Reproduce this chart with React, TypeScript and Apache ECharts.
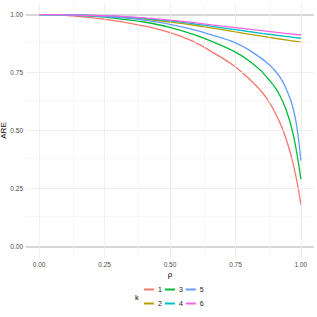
import React, { useEffect, useRef } from "react";
import * as echarts from "echarts";

const rhoOdd = [0, 0.1, 0.2, 0.3, 0.4, 0.5, 0.6, 0.7, 0.75, 0.8, 0.85, 0.88, 0.9, 0.92, 0.94, 0.96, 0.97, 0.98, 0.99, 1.0];
const k1 = [1, 0.997, 0.987, 0.972, 0.951, 0.922, 0.878, 0.812, 0.774, 0.725, 0.667, 0.62, 0.58, 0.533, 0.475, 0.402, 0.358, 0.308, 0.25, 0.18];
const k3 = [1, 0.999, 0.993, 0.983, 0.968, 0.945, 0.91, 0.865, 0.838, 0.802, 0.755, 0.716, 0.688, 0.65, 0.6, 0.53, 0.485, 0.43, 0.365, 0.29];
const k5 = [1, 0.999, 0.995, 0.988, 0.976, 0.958, 0.932, 0.898, 0.878, 0.849, 0.81, 0.783, 0.76, 0.73, 0.69, 0.634, 0.596, 0.546, 0.472, 0.37];
const rhoEven = [0, 0.1, 0.2, 0.3, 0.4, 0.5, 0.6, 0.7, 0.8, 0.9, 1.0];
const k2 = [1, 0.999, 0.996, 0.99, 0.981, 0.968, 0.953, 0.935, 0.916, 0.898, 0.881];
const k4 = [1, 0.999, 0.997, 0.992, 0.984, 0.973, 0.959, 0.943, 0.927, 0.912, 0.898];
const k6 = [1, 0.999, 0.997, 0.993, 0.986, 0.976, 0.964, 0.95, 0.937, 0.924, 0.912];

const kNames = ["1", "2", "3", "4", "5", "6"];
const kRho = [rhoOdd, rhoEven, rhoOdd, rhoEven, rhoOdd, rhoEven];
const kValues = [k1, k2, k3, k4, k5, k6];
const colors = ["#F8766D", "#B79F00", "#00BA38", "#00BFC4", "#619CFF", "#F564E3"];
const tickValues = [0, 0.25, 0.5, 0.75, 1];
const tickLabels = ["0.00", "0.25", "0.50", "0.75", "1.00"];
const minorValues = [0.125, 0.375, 0.625, 0.875];
const hlines = [0, 1];

export default function App() {
  const ref = useRef<HTMLDivElement>(null);
  useEffect(() => {
    if (!ref.current) return;
    const chart = echarts.init(ref.current, null, { renderer: "svg" });
    const font = "Liberation Sans, Arial, sans-serif";
    const fmt = (v: number) => tickLabels[tickValues.indexOf(Math.round(v * 1000) / 1000)] ?? "";
    const series: any[] = kNames.map((name, i) => ({
      name,
      type: "line",
      data: kRho[i].map((r, j) => [r, kValues[i][j]]),
      smooth: 0.2,
      showSymbol: false,
      lineStyle: { width: 1.3, color: colors[i] },
      itemStyle: { color: colors[i] },
      z: 3 + i,
    }));
    const legendCommon = {
      itemWidth: 10,
      itemHeight: 2,
      itemGap: 3,
      icon: "rect",
      textStyle: { fontSize: 7, color: "#1a1a1a", fontFamily: font, padding: [0, 0, 0, -1] },
      padding: 0,
    };
    chart.setOption({
      animation: false,
      backgroundColor: "#ffffff",
      grid: { left: 26, right: 3, top: 3, bottom: 59, containLabel: false, outerBoundsMode: "none" },
      xAxis: {
        type: "value",
        min: -0.05,
        max: 1.05,
        name: "ρ",
        nameLocation: "middle",
        nameGap: 12,
        nameMoveOverlap: false,
        nameTextStyle: { fontSize: 8, color: "#000", fontFamily: font },
        axisLine: { show: false },
        axisTick: { show: false },
        axisLabel: {
          fontSize: 6.5,
          color: "#4d4d4d",
          fontFamily: font,
          margin: 3,
          customValues: tickValues,
          formatter: fmt,
        },
        splitLine: { show: false },
      },
      yAxis: {
        type: "value",
        min: -0.05,
        max: 1.05,
        name: "ARE",
        nameLocation: "middle",
        nameGap: 19,
        nameMoveOverlap: false,
        nameTextStyle: { fontSize: 8, color: "#000", fontFamily: font },
        axisLine: { show: false },
        axisTick: { show: false },
        axisLabel: {
          fontSize: 6.5,
          color: "#4d4d4d",
          fontFamily: font,
          margin: 3,
          customValues: tickValues,
          formatter: fmt,
        },
        splitLine: { show: false },
      },
      graphic: [
        {
          type: "text",
          left: 135,
          top: 293,
          style: { text: "k", fontSize: 7.5, fill: "#000", fontFamily: font },
        },
      ],
      legend: [
        { ...legendCommon, left: 144, top: 286, data: ["1", "3", "5"] },
        { ...legendCommon, left: 144, top: 300, data: ["2", "4", "6"] },
      ],
      series: [
        ...series,
        {
          name: "hl",
          type: "line",
          data: [],
          markLine: {
            silent: true,
            symbol: "none",
            label: { show: false },
            lineStyle: { color: "#c8c8c8", width: 1.6, type: "solid" },
            data: hlines.map((v) => ({ yAxis: v })),
          },
          z: 2,
        },
        {
          name: "gridmajor",
          type: "line",
          data: [],
          markLine: {
            silent: true,
            symbol: "none",
            label: { show: false },
            lineStyle: { color: "#ebebeb", width: 0.8, type: "solid" },
            data: tickValues.map((v) => ({ xAxis: v }))
              .concat([0.25, 0.5, 0.75].map((v) => ({ yAxis: v })) as any),
          },
          z: 1,
        },
        {
          name: "gridminor",
          type: "line",
          data: [],
          markLine: {
            silent: true,
            symbol: "none",
            label: { show: false },
            lineStyle: { color: "#f4f4f4", width: 0.6, type: "solid" },
            data: minorValues.map((v) => ({ xAxis: v }))
              .concat(minorValues.map((v) => ({ yAxis: v })) as any),
          },
          z: 0,
        },
      ],
    });
    return () => chart.dispose();
  }, []);
  return <div ref={ref} style={{ width: 317, height: 317, position: "absolute", left: 0, top: 0 }} />;
}
